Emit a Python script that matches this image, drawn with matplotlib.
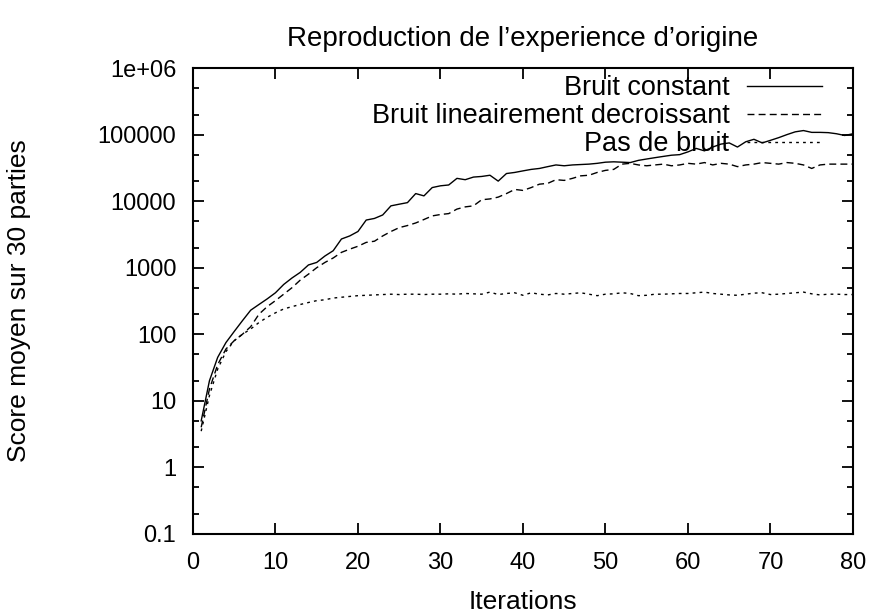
import matplotlib
matplotlib.use("Agg")
import matplotlib.pyplot as plt
from matplotlib.ticker import LogLocator, FixedLocator, FixedFormatter

plt.rcParams['font.family'] = ['Liberation Sans', 'DejaVu Sans']

iterations = list(range(1, 81))

bruit_constant = [
    5, 20, 45, 75, 110, 160, 230, 280, 340, 420,
    560, 700, 850, 1100, 1200, 1500, 1800, 2700, 3000, 3500,
    5200, 5500, 6200, 8500, 9000, 9500, 13000, 12000, 16000, 17000,
    17500, 22000, 21000, 23000, 23500, 24500, 20000, 26000, 27000, 28500,
    30000, 31000, 33000, 35000, 34000, 35000, 35500, 36000, 37000, 38500,
    39000, 38500, 38000, 41000, 43000, 45000, 47000, 49000, 50000, 55000,
    62000, 57000, 65000, 72000, 75000, 65000, 78000, 85000, 75000, 82000,
    90000, 100000, 110000, 115000, 108000, 108000, 107000, 103000, 97000, 103000,
]

bruit_lineaire = [
    4, 15, 35, 60, 80, 100, 130, 200, 260, 320,
    400, 500, 650, 800, 1000, 1200, 1400, 1700, 1900, 2100,
    2400, 2500, 3000, 3500, 4000, 4300, 4700, 5300, 6000, 6300,
    6500, 7600, 8200, 8500, 10500, 10800, 11500, 13000, 15000, 14500,
    16000, 18000, 18500, 21000, 20500, 22000, 24000, 24500, 27000, 29000,
    30000, 36000, 37000, 35000, 34000, 35000, 36000, 34000, 35000, 37000,
    36000, 38000, 35000, 37000, 36000, 33000, 35000, 36000, 38000, 37000,
    36000, 38000, 37000, 35000, 31000, 35000, 36000, 36000, 36000, 36000,
]

pas_de_bruit = [
    3.5, 12, 30, 55, 80, 100, 120, 150, 180, 210,
    240, 260, 280, 300, 320, 330, 350, 360, 370, 380,
    385, 390, 395, 400, 395, 400, 400, 395, 400, 400,
    405, 400, 410, 405, 400, 430, 395, 410, 420, 385,
    420, 400, 390, 410, 400, 410, 420, 400, 380, 400,
    405, 420, 410, 380, 385, 400, 400, 405, 410, 410,
    420, 430, 410, 400, 390, 385, 400, 415, 420, 395,
    400, 410, 420, 430, 405, 390, 400, 400, 395, 395,
]

y_ticks = [0.1, 1, 10, 100, 1000, 10000, 100000, 1000000]
y_ticklabels = ["0.1", "1", "10", "100", "1000", "10000", "100000", "1e+06"]
x_ticks = [0, 10, 20, 30, 40, 50, 60, 70, 80]

fig = plt.figure(figsize=(8.77, 6.13), dpi=100)
ax = fig.add_axes([0.220, 0.129, 0.7526, 0.760])

ax.plot(iterations, bruit_constant, color='black', lw=1.0, label='Bruit constant')
ax.plot(iterations, bruit_lineaire, color='black', lw=1.0, linestyle=(0, (5, 3)),
        label='Bruit lineairement decroissant')
ax.plot(iterations, pas_de_bruit, color='black', lw=1.0, linestyle=(0, (2, 3)),
        label='Pas de bruit')

ax.set_yscale('log')
ax.set_xlim(0, 80)
ax.set_ylim(0.1, 1e6)
ax.yaxis.set_major_locator(FixedLocator(y_ticks))
ax.yaxis.set_major_formatter(FixedFormatter(y_ticklabels))
ax.yaxis.set_minor_locator(LogLocator(base=10, subs=[2, 5]))
ax.yaxis.set_minor_formatter(FixedFormatter([]))
ax.set_xticks(x_ticks)

ax.tick_params(which='both', direction='in', top=True, right=True, labelsize=17, width=1.3)
ax.tick_params(which='major', length=8)
ax.tick_params(axis='x', which='major', pad=13)
ax.tick_params(axis='y', which='major', pad=12)
ax.tick_params(which='minor', length=4)
for s in ax.spines.values():
    s.set_linewidth(1.5)

ax.set_title("Reproduction de l\u2019experience d\u2019origine", fontsize=20, pad=16)
ax.set_xlabel("Iterations", fontsize=19)
ax.xaxis.set_label_coords(0.5, -0.12)
ax.set_ylabel("Score moyen sur 30 parties", fontsize=19)
ax.yaxis.set_label_coords(-0.245, 0.5)

ax.legend(loc='upper right', bbox_to_anchor=(0.953, 0.985), frameon=False,
          markerfirst=False, fontsize=19.5, handlelength=2.75, labelspacing=0.08,
          borderaxespad=0, borderpad=0, handletextpad=0.67)

fig.savefig("out.png", dpi=100)
